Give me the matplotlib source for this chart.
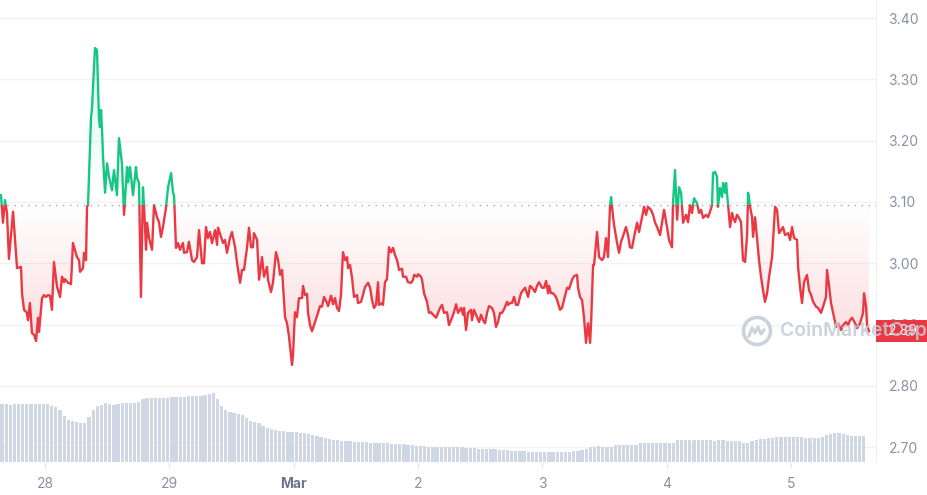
import numpy as np
import pandas as pd
import matplotlib
matplotlib.use("Agg")
import matplotlib.pyplot as plt
import matplotlib.dates as mdates
from matplotlib.patches import Rectangle
from matplotlib.path import Path
from matplotlib.transforms import blended_transform_factory
from matplotlib.colors import to_rgb

plt.rcParams['font.family'] = ['Inter', 'DejaVu Sans']

# ---------------- data ----------------
base_date = '2024-02-28'
# time in days since base_date
t_days = [
 -0.362,-0.354,-0.338,-0.330,-0.322,-0.306,-0.290,-0.257,-0.241,-0.225,-0.193,-0.185,-0.169,-0.145,-0.137,
 -0.121,-0.105,-0.088,-0.072,-0.056,-0.048,-0.024,-0.008,0.008,0.024,0.040,0.056,0.072,0.097,0.105,0.121,
 0.137,0.153,0.161,0.185,0.209,0.225,0.257,0.274,0.282,0.306,0.314,0.330,0.338,0.346,0.370,0.378,0.402,
 0.418,0.434,0.442,0.451,0.459,0.467,0.483,0.499,0.515,0.539,0.555,0.579,0.595,0.619,0.636,0.660,0.668,
 0.684,0.708,0.732,0.740,0.756,0.772,0.788,0.796,0.813,0.821,0.837,0.861,0.877,0.901,0.917,0.933,0.949,
 0.973,0.990,1.014,1.030,1.038,1.054,1.070,1.086,1.110,1.118,1.142,1.158,1.183,1.199,1.223,1.239,1.263,
 1.279,1.295,1.311,1.327,1.344,1.368,1.384,1.392,1.416,1.432,1.448,1.464,1.488,1.504,1.529,1.545,1.569,
 1.585,1.601,1.625,1.641,1.657,1.673,1.681,1.706,1.722,1.746,1.762,1.786,1.794,1.818,1.834,1.858,1.875,
 1.891,1.907,1.931,1.947,1.963,1.987,1.995,2.011,2.027,2.043,2.068,2.076,2.092,2.108,2.116,2.132,2.148,
 2.172,2.196,2.212,2.228,2.245,2.269,2.277,2.301,2.317,2.333,2.349,2.365,2.381,2.397,2.414,2.430,2.438,
 2.454,2.470,2.486,2.510,2.518,2.542,2.558,2.574,2.599,2.615,2.631,2.647,2.663,2.679,2.687,2.711,2.719,
 2.735,2.751,2.767,2.784,2.800,2.816,2.832,2.848,2.872,2.880,2.904,2.920,2.945,2.961,2.969,2.993,3.001,
 3.025,3.033,3.049,3.073,3.089,3.105,3.122,3.146,3.162,3.178,3.194,3.210,3.234,3.250,3.274,3.290,3.307,
 3.323,3.347,3.363,3.371,3.387,3.403,3.427,3.435,3.451,3.475,3.492,3.508,3.524,3.540,3.556,3.572,3.596,
 3.612,3.628,3.644,3.661,3.677,3.693,3.717,3.725,3.741,3.757,3.773,3.789,3.805,3.829,3.846,3.862,3.886,
 3.902,3.918,3.942,3.958,3.974,3.998,4.015,4.031,4.047,4.055,4.071,4.087,4.111,4.127,4.143,4.159,4.175,
 4.200,4.216,4.240,4.256,4.280,4.288,4.304,4.320,4.336,4.352,4.369,4.385,4.393,4.409,4.417,4.441,4.457,
 4.481,4.497,4.513,4.529,4.545,4.554,4.570,4.578,4.602,4.618,4.634,4.650,4.674,4.690,4.706,4.722,4.747,
 4.763,4.779,4.803,4.819,4.835,4.851,4.875,4.891,4.908,4.924,4.948,4.964,4.980,5.004,5.020,5.044,5.052,
 5.068,5.085,5.101,5.117,5.133,5.157,5.173,5.189,5.205,5.221,5.245,5.262,5.278,5.294,5.318,5.334,5.350,
 5.366,5.374,5.390,5.406,5.414,5.430,5.447,5.455,5.471,5.479,5.495,5.511,5.527,5.535,5.551,5.567,5.583,
 5.599,5.615,5.632,5.648,5.656,5.672,5.688,5.696,5.712,5.728,5.744,5.760,5.776,5.792,5.809,5.825,5.849,
 5.873,5.889,5.905,5.921,5.937,5.953,5.978,5.994,6.010,6.026,6.050,6.058,6.074,6.090,6.106,6.130,6.146,
 6.163,6.179,6.203,6.219,6.243,6.259,6.283,6.291,6.307,6.323,6.339,6.364,6.380,6.404,6.420,6.444,6.460,
 6.476,6.492,6.517,6.533,6.557,6.581,6.589,6.605,6.613,6.629]
prices = [
 3.111,3.111,3.066,3.084,3.103,3.082,3.007,3.084,3.038,2.992,2.994,2.951,2.924,2.919,2.907,
 2.935,2.886,2.883,2.873,2.911,2.888,2.943,2.948,2.945,2.948,2.947,2.924,3.002,2.961,2.956,2.945,
 2.978,2.969,2.974,2.968,2.966,3.033,3.010,3.005,2.986,2.992,3.017,3.005,3.092,3.095,3.237,3.253,3.351,
 3.348,3.238,3.222,3.250,3.217,3.173,3.115,3.163,3.141,3.119,3.152,3.111,3.204,3.163,3.079,3.157,3.132,
 3.157,3.111,3.157,3.139,3.131,2.945,3.124,3.095,3.022,3.066,3.041,3.022,3.095,3.075,3.067,3.043,3.059,
 3.090,3.124,3.147,3.115,3.111,3.025,3.033,3.022,3.033,3.017,3.018,3.035,3.005,3.002,3.010,3.054,3.000,
 3.000,3.059,3.041,3.051,3.033,3.054,3.030,3.058,3.043,3.033,3.038,3.017,3.041,3.051,3.026,3.000,2.968,
 2.989,2.989,3.025,3.058,3.026,3.026,3.049,3.038,2.973,3.010,2.978,2.994,2.973,2.953,2.968,3.018,3.005,
 2.981,2.989,2.912,2.902,2.880,2.834,2.850,2.920,2.912,2.943,2.943,2.963,2.948,2.950,2.919,2.899,2.889,
 2.904,2.919,2.930,2.929,2.945,2.935,2.930,2.947,2.933,2.943,2.927,2.922,2.948,3.018,3.005,3.010,2.992,
 2.997,2.976,2.945,2.948,2.935,2.937,2.948,2.961,2.968,2.960,2.940,2.927,2.932,2.969,2.932,2.935,2.932,
 2.969,2.974,3.026,3.018,3.025,3.013,3.005,2.989,2.991,2.978,2.978,2.969,2.968,2.973,2.981,2.978,2.982,
 2.978,2.973,2.951,2.937,2.919,2.920,2.916,2.911,2.919,2.927,2.932,2.919,2.920,2.899,2.911,2.920,2.933,
 2.919,2.927,2.916,2.927,2.891,2.919,2.924,2.907,2.924,2.912,2.904,2.916,2.907,2.902,2.919,2.930,2.927,
 2.919,2.896,2.904,2.919,2.919,2.925,2.937,2.932,2.935,2.935,2.945,2.932,2.932,2.951,2.956,2.960,2.945,
 2.963,2.960,2.953,2.963,2.969,2.960,2.960,2.971,2.951,2.963,2.951,2.951,2.945,2.935,2.924,2.927,2.940,
 2.960,2.958,2.973,2.979,2.981,2.960,2.945,2.940,2.912,2.870,2.902,2.870,2.902,2.997,2.997,3.051,3.010,
 3.005,3.010,3.041,3.010,3.092,3.108,3.075,3.062,3.033,3.017,3.035,3.044,3.059,3.046,3.026,3.025,3.051,
 3.066,3.051,3.075,3.092,3.079,3.092,3.087,3.079,3.066,3.059,3.046,3.067,3.087,3.059,3.038,3.026,3.098,
 3.152,3.071,3.124,3.115,3.066,3.079,3.067,3.095,3.082,3.106,3.098,3.082,3.087,3.074,3.079,3.075,3.084,
 3.095,3.147,3.149,3.141,3.092,3.123,3.108,3.131,3.115,3.131,3.095,3.059,3.082,3.075,3.067,3.079,3.074,
 3.067,3.005,3.002,3.046,3.115,3.092,3.075,3.043,3.075,3.041,3.005,2.978,2.956,2.937,2.951,2.978,3.010,
 3.092,3.087,3.049,3.054,3.059,3.046,3.049,3.038,3.059,3.041,3.038,2.994,2.961,2.935,2.969,2.981,2.956,
 2.948,2.937,2.929,2.927,2.919,2.929,2.945,2.989,2.964,2.935,2.920,2.896,2.902,2.891,2.899,2.904,2.899,
 2.907,2.911,2.902,2.894,2.902,2.919,2.951,2.929,2.899,2.889]
open_price = 3.095
last_price_text = '2.89'

# trading volume (billions, arbitrary scale), one bar every 48 minutes
vol_start = '2024-02-27 15:42'
vol_freq = '48min'
volumes = [
 5.8,5.8,5.7,5.8,5.8,5.8,5.8,5.8,5.8,5.8,
 5.8,5.8,5.6,5.5,5.2,4.6,4.2,4.1,4.0,3.9,
 3.9,4.5,5.2,5.6,5.7,5.9,5.8,5.7,5.8,5.9,
 5.9,5.9,5.9,6.0,6.3,6.4,6.4,6.4,6.4,6.4,
 6.4,6.5,6.5,6.5,6.5,6.6,6.6,6.6,6.6,6.7,
 6.8,6.9,6.3,5.6,5.2,5.0,4.9,4.8,4.7,4.4,
 4.1,4.0,3.9,3.6,3.4,3.3,3.2,3.1,3.1,3.0,
 3.0,3.0,2.9,2.9,2.8,2.7,2.6,2.5,2.4,2.3,
 2.2,2.2,2.1,2.1,2.1,2.0,2.0,2.0,2.0,1.9,
 1.9,1.9,1.9,1.9,1.8,1.8,1.8,1.8,1.7,1.7,
 1.6,1.6,1.6,1.5,1.5,1.5,1.5,1.5,1.5,1.5,
 1.5,1.5,1.4,1.4,1.4,1.3,1.3,1.3,1.3,1.3,
 1.2,1.2,1.2,1.1,1.1,1.1,1.1,1.0,1.0,1.0,
 1.0,1.0,1.0,1.0,1.0,1.0,1.0,1.0,1.1,1.1,
 1.2,1.3,1.5,1.5,1.6,1.5,1.5,1.5,1.7,1.7,
 1.7,1.7,1.7,1.7,1.9,1.9,1.9,1.9,1.9,1.9,
 1.9,1.9,1.9,2.2,2.2,2.2,2.2,2.2,2.2,2.2,
 2.2,2.2,2.1,2.2,2.2,2.1,2.1,2.1,2.1,1.9,
 1.9,2.1,2.2,2.3,2.3,2.4,2.4,2.5,2.5,2.5,
 2.5,2.5,2.5,2.5,2.4,2.4,2.4,2.4,2.5,2.7,
 2.8,2.9,2.9,2.8,2.7,2.6,2.6,2.6,2.6]

y_ticks = [2.70, 2.80, 2.90, 3.00, 3.10, 3.20, 3.30, 3.40]
x_tick_dates = ['2024-02-28', '2024-02-29', '2024-03-01', '2024-03-02',
                '2024-03-03', '2024-03-04', '2024-03-05']
x_tick_labels = ['28', '29', 'Mar', '2', '3', '4', '5']

# ---------------- style ----------------
RED = '#ea3943'
GREEN = '#16c784'
TXT = '#8a91a4'
GRID = '#f1f2f5'
VOLC = '#cfd6e4'

W, H = 928, 495
fig = plt.figure(figsize=(W / 100, H / 100), dpi=100)
fig.patch.set_facecolor('white')
rect = [0, 33 / H, 876 / W, 462 / H]
axv = fig.add_axes(rect)
ax = fig.add_axes(rect)
ax.patch.set_alpha(0)

base = mdates.date2num(pd.Timestamp(base_date))
t = base + np.array(t_days)
p = np.array(prices)
xmin, xmax = base - 0.362, base + 6.685
ymin, ymax = 2.6757, 3.4294

# volume bars
bar_t = mdates.date2num(pd.date_range(vol_start, periods=len(volumes), freq=vol_freq))
step = pd.Timedelta(vol_freq) / pd.Timedelta('1D')
axv.bar(bar_t, volumes, width=step * 0.78, color=VOLC, linewidth=0, zorder=2)
axv.set_xlim(xmin, xmax)
axv.set_ylim(0, 46.2)
axv.axis('off')

# grid lines (behind bars)
gtrans = blended_transform_factory(axv.transAxes, ax.transData)
for yt in y_ticks:
    axv.plot([0, 1], [yt, yt], transform=gtrans, color=GRID, lw=1.0, zorder=1,
             clip_on=False)

ax.set_xlim(xmin, xmax)
ax.set_ylim(ymin, ymax)


def grad_fill(mask, color, a_near, a_far, y_far):
    coll = ax.fill_between(t, p, open_price, where=mask, interpolate=True,
                           facecolor='none', edgecolor='none')
    cp = Path.make_compound_path(*coll.get_paths())
    n = 256
    rgba = np.zeros((n, 1, 4))
    rgba[..., :3] = to_rgb(color)
    if y_far < open_price:
        rgba[:, 0, 3] = np.linspace(a_far, a_near, n)
        ext = [xmin, xmax, y_far, open_price]
    else:
        rgba[:, 0, 3] = np.linspace(a_near, a_far, n)
        ext = [xmin, xmax, open_price, y_far]
    im = ax.imshow(rgba, extent=ext, origin='lower', aspect='auto', zorder=1,
                   interpolation='bilinear')
    im.set_clip_path(cp, ax.transData)


grad_fill(p <= open_price, RED, 0.0, 0.20, 2.84)
grad_fill(p >= open_price, GREEN, 0.0, 0.14, 3.35)

# baseline
ax.axhline(open_price, color='#a2a8b3', lw=1.0, ls=(0, (1, 4)), zorder=2)

# price line split by colour
for color, (y0, y1) in [(RED, (ymin - 1, open_price)), (GREEN, (open_price, ymax + 1))]:
    ln, = ax.plot(t, p, color=color, lw=1.7, solid_joinstyle='round', zorder=3)
    clip = Rectangle((xmin - 1, y0), xmax - xmin + 2, y1 - y0, transform=ax.transData)
    ln.set_clip_path(clip)

ax.set_xlim(xmin, xmax)
ax.set_ylim(ymin, ymax)

# axes styling
for s in ['top', 'left', 'bottom']:
    ax.spines[s].set_visible(False)
ax.spines['right'].set_color('#eef0f3')
ax.yaxis.tick_right()
ax.set_yticks(y_ticks)
ax.set_yticklabels([f'{v:.2f}' for v in y_ticks])
ax.tick_params(axis='y', length=0, pad=9, labelcolor=TXT, labelsize=10)
ax.set_xticks(mdates.date2num(pd.to_datetime(x_tick_dates)))
ax.set_xticklabels(x_tick_labels)
ax.tick_params(axis='x', length=4, color='#e3e6eb', width=1, pad=7,
               labelcolor=TXT, labelsize=10)
for lbl in ax.get_xticklabels():
    if lbl.get_text() == 'Mar':
        lbl.set_fontweight('bold')
        lbl.set_color('#6b7489')

# last price tag
trans = blended_transform_factory(ax.transAxes, ax.transData)
box_h = (ymax - ymin) / 462 * 22
last = prices[-1]
ax.add_patch(Rectangle((1.0, last - box_h / 2), 52 / 876, box_h, transform=trans,
                       clip_on=False, facecolor=RED, edgecolor='none', zorder=5))
ax.text(1.0 + 27 / 876, last, last_price_text, transform=trans, ha='center',
        va='center', color='white', fontsize=10, zorder=6, clip_on=False)

# watermark
wm_y = (462 - 331) / 462
ax.text(780 / 876, wm_y, 'CoinMarketCap', transform=ax.transAxes, ha='left',
        va='center', fontsize=14, fontweight='semibold', color='#c4cad6',
        alpha=0.85, zorder=7, clip_on=False)
ax.scatter([757 / 876], [wm_y], s=380, facecolors='none', edgecolors='#c4cad6',
           linewidths=2.6, transform=ax.transAxes, zorder=7, clip_on=False, alpha=0.85)
wx = np.array([-8, -5, -2, 1, 4, 7]) / 876
wy = np.array([-5, 3, -2, 4, -3, 1]) / 462
ax.plot(757 / 876 + wx, wm_y + wy, color='#c4cad6', lw=2.2, transform=ax.transAxes,
        zorder=7, clip_on=False, alpha=0.85, solid_joinstyle='round')

fig.savefig('out.png', dpi=100, facecolor='white')
